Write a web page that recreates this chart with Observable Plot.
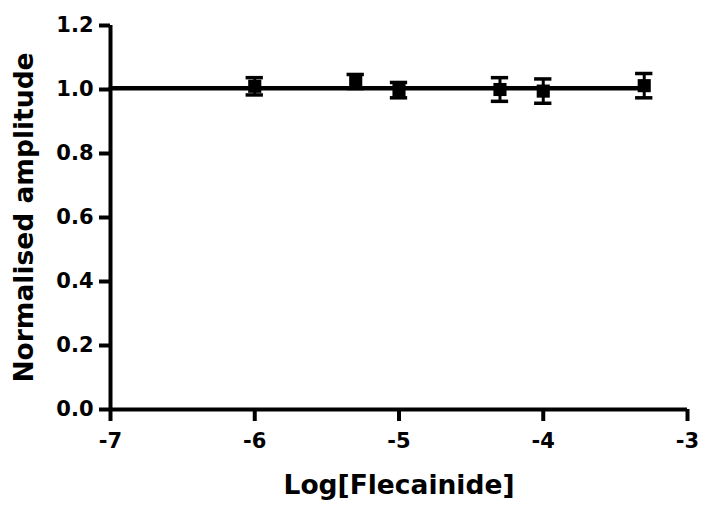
<!DOCTYPE html>
<html>
<head>
<meta charset="utf-8">
<script src="https://cdn.jsdelivr.net/npm/d3@7"></script>
<script src="https://cdn.jsdelivr.net/npm/@observablehq/plot@0.6"></script>
<style>
  body { margin: 0; background: #fff; }
  #chart svg { display: block; }
</style>
</head>
<body>
<div id="chart"></div>
<script>
// Data
const logConc = [-6, -5.3, -5, -4.3, -4, -3.3];
const amplitude = [1.01, 1.025, 0.998, 1.0, 0.995, 1.012];
const sem = [0.027, 0.022, 0.024, 0.037, 0.038, 0.038];
const fitValue = 1.004;
const fitRange = [-7, -3.3];
const xTicks = [-7, -6, -5, -4, -3];
const yTicks = [0.0, 0.2, 0.4, 0.6, 0.8, 1.0, 1.2];
const xTitle = "Log[Flecainide]";
const yTitle = "Normalised amplitude";

const points = logConc.map((x, i) => ({x, y: amplitude[i], lo: amplitude[i] - sem[i], hi: amplitude[i] + sem[i]}));
const fit = fitRange.map(x => ({x, y: fitValue}));
const capHalf = 0.06; // cap half-width in data units

const font = "'DejaVu Sans', 'Liberation Sans', Arial, sans-serif";

const chart = Plot.plot({
  width: 706,
  height: 506,
  marginLeft: 110,
  marginRight: 19,
  marginTop: 25,
  marginBottom: 97,
  style: {fontFamily: font, color: "#000", background: "#fff"},
  x: {domain: [-7, -3]},
  y: {domain: [0, 1.2]},
  marks: [
    Plot.axisX({ticks: xTicks, tickSize: 12, tickPadding: 12, strokeWidth: 4, fontSize: 21, fontWeight: "bold", label: null, tickFormat: d => d < 0 ? "-" + Math.abs(d) : String(d)}),
    Plot.axisY({ticks: yTicks, tickSize: 11, tickPadding: 6, strokeWidth: 4, fontSize: 21, fontWeight: "bold", label: null, tickFormat: d3.format(".1f")}),
    Plot.ruleY([0], {strokeWidth: 4, stroke: "black", x1: -7, x2: -3}),
    Plot.ruleX([-7], {strokeWidth: 4, stroke: "black", y1: 0, y2: 1.2}),
    Plot.line(fit, {x: "x", y: "y", strokeWidth: 4.5, stroke: "black"}),
    Plot.ruleX(points, {x: "x", y1: "lo", y2: "hi", strokeWidth: 3, stroke: "black"}),
    Plot.ruleY(points, {y: "hi", x1: d => d.x - capHalf, x2: d => d.x + capHalf, strokeWidth: 3.5, stroke: "black"}),
    Plot.ruleY(points, {y: "lo", x1: d => d.x - capHalf, x2: d => d.x + capHalf, strokeWidth: 3.5, stroke: "black"}),
    Plot.dot(points, {x: "x", y: "y", symbol: "square", r: 7.4, fill: "black", stroke: "none"}),
    Plot.text([xTitle], {frameAnchor: "bottom", dy: 76, fontSize: 26.5, fontWeight: "bold", text: d => d, lineAnchor: "middle"}),
    Plot.text([yTitle], {frameAnchor: "left", dx: -86, rotate: -90, textAnchor: "middle", fontSize: 26.5, fontWeight: "bold", text: d => d})
  ]
});
document.getElementById("chart").append(chart);
</script>
</body>
</html>
